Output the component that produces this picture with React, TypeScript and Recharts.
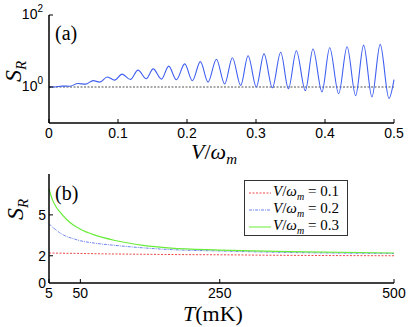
import React from 'react';
import { LineChart, Line, XAxis, YAxis, ReferenceLine } from 'recharts';

const vA = [0, 0.008, 0.019, 0.03, 0.042, 0.053, 0.064, 0.0735, 0.0845, 0.095, 0.106, 0.118, 0.129, 0.141, 0.151, 0.163, 0.1735, 0.1846, 0.1967, 0.2078, 0.2194, 0.2305, 0.2426, 0.2546, 0.2658, 0.2778, 0.2885, 0.3005, 0.3116, 0.3237, 0.3358, 0.347, 0.3585, 0.3715, 0.3826, 0.3956, 0.4068, 0.4198, 0.432, 0.4444, 0.456, 0.468, 0.48, 0.4927, 0.5];
const sA = [1.0, 1.0, 1.06, 1.05, 1.25, 1.2, 1.5, 1.37, 1.9, 1.55, 2.28, 1.62, 2.94, 1.69, 3.19, 1.66, 3.8, 1.59, 4.38, 1.49, 5.07, 1.37, 5.9, 1.21, 6.5, 1.1, 7.4, 1.0, 8.3, 0.95, 9.2, 0.89, 10.2, 0.79, 11.4, 0.73, 12.3, 0.65, 13.1, 0.575, 14.6, 0.53, 15.3, 0.48, 1.6];
const xTicksA = [0, 0.1, 0.2, 0.3, 0.4, 0.5];
const yTicksA = [1, 100];

// panel (b): S_R vs T (mK)
const tB = [5, 10, 15, 20, 30, 40, 50, 70, 100, 140, 180, 250, 350, 500];
const red01 = [2.2, 2.2, 2.19, 2.19, 2.18, 2.18, 2.17, 2.15, 2.13, 2.11, 2.09, 2.07, 2.03, 2.0];
const blue02 = [4.35, 4.1, 3.9, 3.7, 3.42, 3.25, 3.1, 2.93, 2.76, 2.58, 2.45, 2.35, 2.24, 2.17];
const green03 = [6.9, 6.1, 5.6, 5.25, 4.68, 4.25, 3.95, 3.53, 3.12, 2.76, 2.56, 2.42, 2.3, 2.2];
const xTicksB = [5, 50, 250, 500];
const yTicksB = [0, 2, 5];
const legendNames = ['0.1', '0.2', '0.3'];

const topData = vA.map((v, i) => ({ v, s: sA[i] }));
const bottomData = tB.map((t, i) => ({ t, r: red01[i], b: blue02[i], g: green03[i] }));

const SANS = '"Liberation Sans", Arial, sans-serif';
const SERIF = '"Liberation Serif", "DejaVu Serif", serif';

const bottomTick = (props: any) => {
  const { x, y, payload } = props;
  return (
    <g>
      <line x1={x} x2={x} y1={y} y2={y - 4} stroke="#000" />
      <text x={x} y={y + 15} textAnchor="middle" fontSize={14} fontFamily={SANS} fill="#000">
        {String(payload.value)}
      </text>
    </g>
  );
};

const topTick = (props: any) => {
  const { x, y } = props;
  return <line x1={x} x2={x} y1={y} y2={y + 4} stroke="#000" />;
};

const rightTick = (props: any) => {
  const { x, y } = props;
  return <line x1={x} x2={x - 4} y1={y} y2={y} stroke="#000" />;
};

// the 0 label on the box corner is written in the overlay below
const leftTick = (props: any) => {
  const { x, y, payload } = props;
  if (payload.value === yTicksB[0]) return <g />;
  return (
    <g>
      <line x1={x} x2={x + 4} y1={y} y2={y} stroke="#000" />
      <text x={x - 3} y={y + 5} textAnchor="end" fontSize={14} fontFamily={SANS} fill="#000">
        {String(payload.value)}
      </text>
    </g>
  );
};

const logTick = (props: any) => {
  const { x, y, payload } = props;
  const exp = Math.round(Math.log10(payload.value));
  return (
    <g>
      <line x1={x} x2={x + 4} y1={y} y2={y} stroke="#000" />
      <text x={x - 6} y={y + 4} textAnchor="end" fontSize={14} fontFamily={SANS} fill="#000">
        10
        <tspan dy={-7} fontSize={10}>{exp}</tspan>
      </text>
    </g>
  );
};

const axisLine = { stroke: '#000', strokeWidth: 1.5 };

function LegendRow({ color, dash, label }: { color: string; dash?: string; label: string }) {
  return (
    <div style={{ display: 'flex', alignItems: 'center', height: 17 }}>
      <svg width={24} height={10} style={{ marginLeft: 4 }}>
        <line x1={0} x2={22} y1={5} y2={5} stroke={color} strokeWidth={1} strokeDasharray={dash} />
      </svg>
      <span style={{ fontFamily: SERIF, fontSize: 15, whiteSpace: 'nowrap' }}>
        <i>V</i>/<i>ω</i>
        <sub style={{ fontSize: 10 }}><i>m</i></sub> = {label}
      </span>
    </div>
  );
}

export default function App() {
  return (
    <div style={{ position: 'absolute', left: 0, top: 0, width: 409, height: 327, background: '#fff' }}>
      <div style={{ position: 'absolute', left: 0, top: 0 }}>
        <LineChart width={409} height={160} data={topData} margin={{ top: 15, right: 15, bottom: 7, left: 0 }}>
          <XAxis dataKey="v" type="number" domain={[0, 0.5]} ticks={xTicksA} height={30} interval={0}
            tickSize={0} tickMargin={0} tickLine={false} axisLine={axisLine} tick={bottomTick} />
          <XAxis xAxisId="top" orientation="top" type="number" domain={[0, 0.5]} ticks={xTicksA} height={0} interval={0}
            tickSize={0} tickMargin={0} tickLine={false} axisLine={axisLine} tick={topTick} />
          <YAxis type="number" scale="log" domain={[0.1, 100]} ticks={yTicksA} width={49} allowDataOverflow interval={0}
            tickSize={0} tickMargin={0} tickLine={false} axisLine={axisLine} tick={logTick} />
          <YAxis yAxisId="right" orientation="right" type="number" scale="log" domain={[0.1, 100]} ticks={yTicksA} interval={0}
            width={0} allowDataOverflow tickSize={0} tickMargin={0} tickLine={false} axisLine={axisLine} tick={rightTick} />
          <ReferenceLine y={1} stroke="#555" strokeDasharray="2 1.5" strokeWidth={1} />
          <Line type="monotone" dataKey="s" stroke="#3f5ff0" strokeWidth={1.1} dot={false} isAnimationActive={false} />
        </LineChart>
      </div>

      <div style={{ position: 'absolute', left: 0, top: 160 }}>
        <LineChart width={409} height={167} data={bottomData} margin={{ top: 14, right: 15, bottom: 14, left: 0 }}>
          <XAxis dataKey="t" type="number" domain={[5, 500]} ticks={xTicksB} height={30} interval={0}
            tickSize={0} tickMargin={0} tickLine={false} axisLine={axisLine} tick={bottomTick} />
          <XAxis xAxisId="top" orientation="top" type="number" domain={[5, 500]} ticks={xTicksB} height={0} interval={0}
            tickSize={0} tickMargin={0} tickLine={false} axisLine={axisLine} tick={topTick} />
          <YAxis type="number" domain={[0, 8]} ticks={yTicksB} width={49} interval={0} allowDataOverflow
            tickSize={0} tickMargin={0} tickLine={false} axisLine={axisLine} tick={leftTick} />
          <YAxis yAxisId="right" orientation="right" type="number" domain={[0, 8]} ticks={yTicksB} width={0} interval={0}
            allowDataOverflow tickSize={0} tickMargin={0} tickLine={false} axisLine={axisLine} tick={rightTick} />
          <Line type="monotone" dataKey="r" stroke="#f04848" strokeDasharray="2 1.5" strokeWidth={1} dot={false} isAnimationActive={false} />
          <Line type="monotone" dataKey="b" stroke="#6f84f0" strokeDasharray="3 1 1 1" strokeWidth={1} dot={false} isAnimationActive={false} />
          <Line type="monotone" dataKey="g" stroke="#6aec3a" strokeWidth={1.2} dot={false} isAnimationActive={false} />
        </LineChart>
      </div>

      <div style={{ position: 'absolute', left: 244, top: 180, width: 104, height: 56, border: '1px solid #333', background: '#fff', paddingTop: 3, boxSizing: 'border-box' }}>
        <LegendRow color="#f04848" dash="2 1.5" label={legendNames[0]} />
        <LegendRow color="#6f84f0" dash="3 1 1 1" label={legendNames[1]} />
        <LegendRow color="#6aec3a" label={legendNames[2]} />
      </div>

      <svg width={409} height={327} style={{ position: 'absolute', left: 0, top: 0, pointerEvents: 'none' }}>
        <text x={55} y={40} fontFamily={SERIF} fontSize={20}>(a)</text>
        <text x={55} y={200} fontFamily={SERIF} fontSize={20}>(b)</text>
        <text x={46} y={288} textAnchor="end" fontSize={14} fontFamily={SANS} fill="#000">{String(yTicksB[0])}</text>
        <text transform="translate(21 82) rotate(-90)" fontFamily={SERIF} fontSize={24} fontStyle="italic">
          S<tspan dy={5} fontSize={15}>R</tspan>
        </text>
        <text transform="translate(23 220) rotate(-90)" fontFamily={SERIF} fontSize={24} fontStyle="italic">
          S<tspan dy={5} fontSize={15}>R</tspan>
        </text>
        <text x={214} y={159} textAnchor="middle" fontFamily={SERIF} fontSize={22}>
          <tspan fontStyle="italic">V</tspan>/<tspan fontStyle="italic">ω</tspan>
          <tspan dy={5} fontSize={15} fontStyle="italic">m</tspan>
        </text>
        <text x={213} y={321} textAnchor="middle" fontFamily={SERIF} fontSize={22}>
          <tspan fontStyle="italic">T</tspan>(mK)
        </text>
      </svg>
    </div>
  );
}
